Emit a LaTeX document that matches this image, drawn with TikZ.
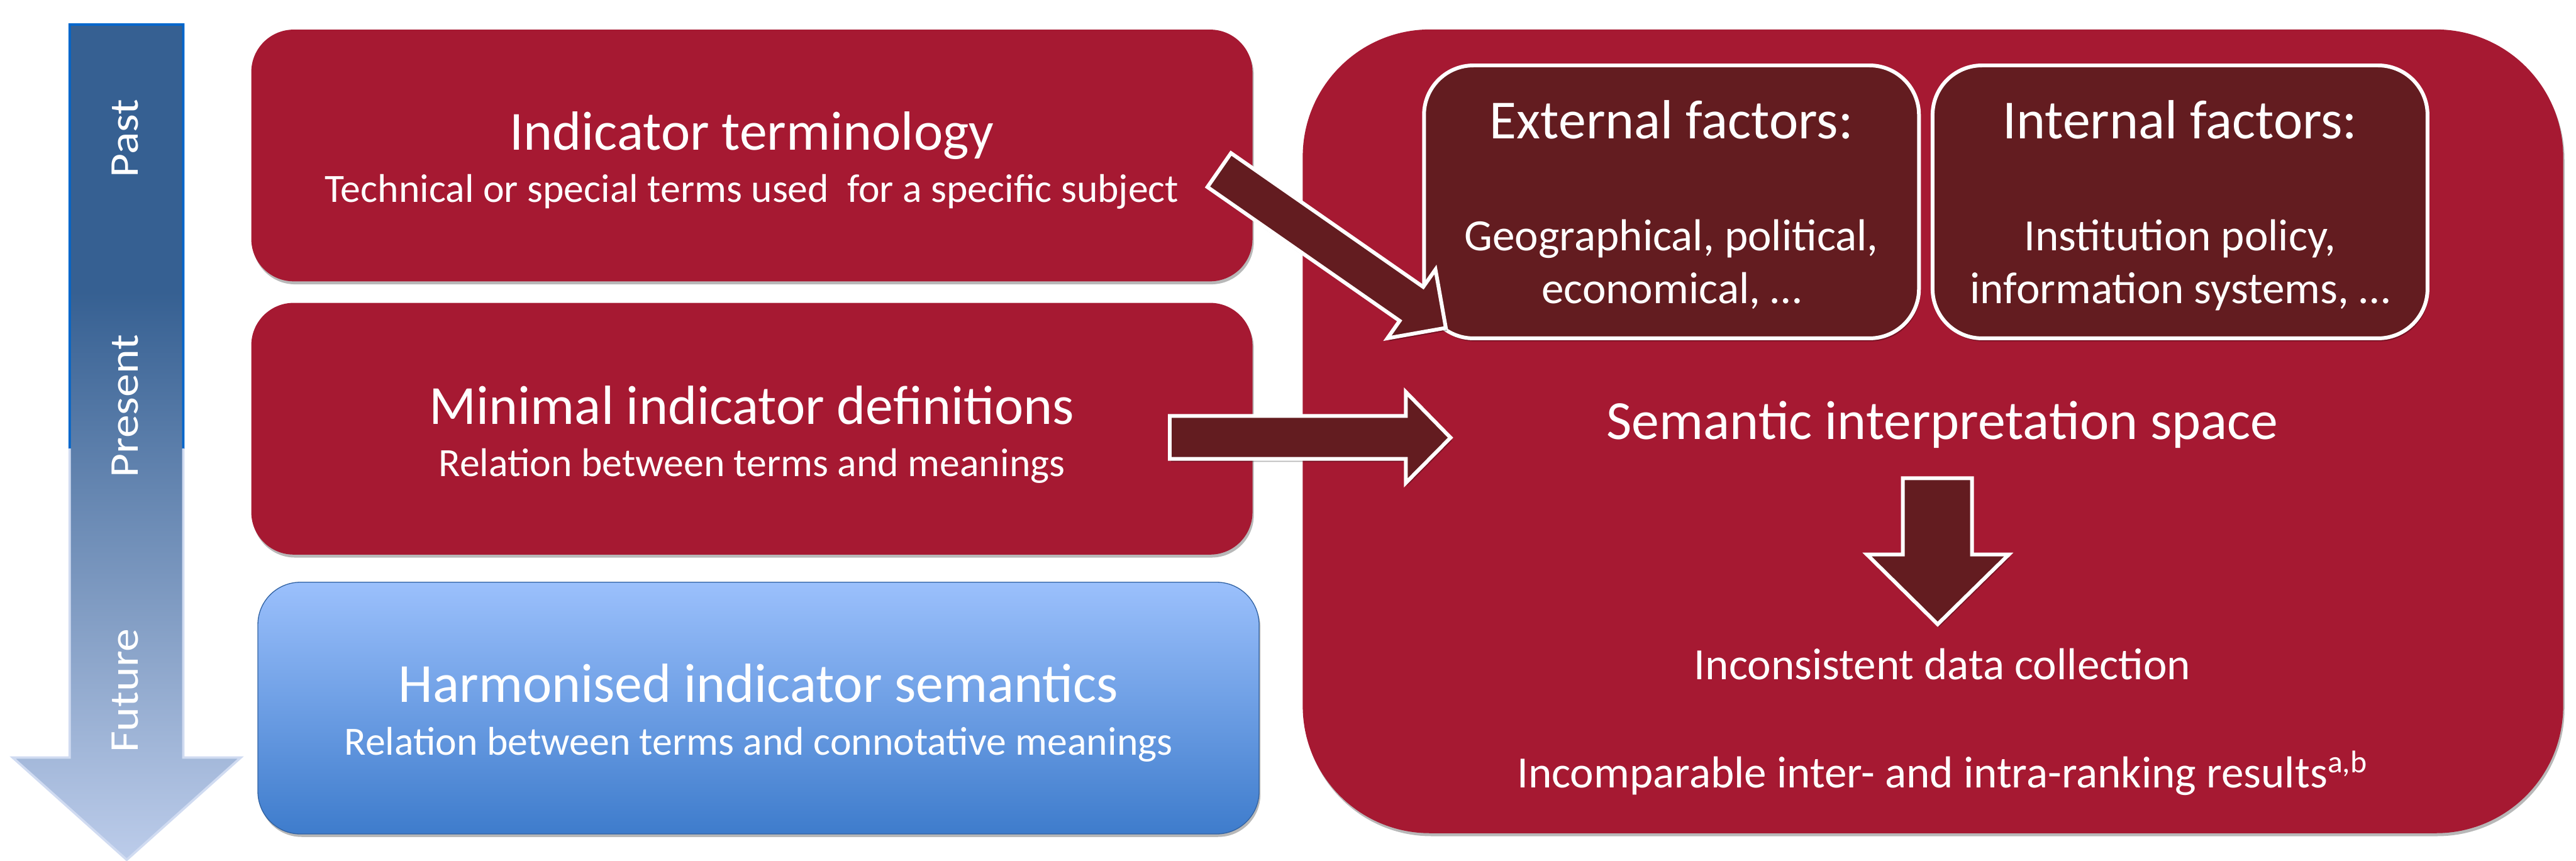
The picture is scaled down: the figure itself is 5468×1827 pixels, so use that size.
\documentclass[tikz,border=0pt]{standalone}
\usepackage{fontspec}
\usepackage{graphicx}
\setmainfont{Carlito}
\usetikzlibrary{shadows}

\definecolor{crimson}{RGB}{166,25,50}
\definecolor{wine}{RGB}{99,28,32}
\definecolor{skyTop}{RGB}{155,192,252}
\definecolor{skyBot}{RGB}{62,124,204}
\definecolor{timeTop}{RGB}{54,96,146}
\definecolor{timeBot}{RGB}{188,204,234}
\definecolor{timeEdge}{RGB}{0,102,204}
\definecolor{timePale}{RGB}{208,219,241}

% dark on the upper third, then fading towards the arrow head
\pgfdeclareverticalshading{timeshade}{100bp}{color(0bp)=(timeBot); color(25bp)=(timeBot); color(59bp)=(timeTop); color(100bp)=(timeTop)}

\newcommand\timepath{(148,52) -- (389,52) -- (389,1608) -- (511,1608) -- (269,1825) -- (27,1608) -- (148,1608) -- cycle}

\tikzset{
  softshadow/.style={drop shadow={shadow xshift=0.8pt, shadow yshift=-1.8pt, opacity=0.28, fill=black}},
  leftbox/.style={rounded corners=0.9cm, minimum width=21.24cm, minimum height=5.34cm, inner sep=0pt, softshadow},
  redbox/.style={leftbox, fill=crimson},
  bluebox/.style={leftbox, top color=skyTop, bottom color=skyBot, draw=skyBot!80!black, line width=0.5pt},
  bigbox/.style={rounded corners=2.7cm, fill=crimson, inner sep=0pt, softshadow},
  factorbox/.style={rounded corners=1.05cm, fill=wine, draw=white, line width=0.08cm, inner sep=0pt,
    minimum width=10.5cm, minimum height=5.79cm, softshadow},
  blockarrow/.style={fill=wine, draw=white, line width=0.08cm, line join=miter, softshadow},
  txt/.style={text=white, anchor=base, inner sep=0pt},
  title/.style={txt, font=\fontsize{33.3}{40}\selectfont},
  sub/.style={txt, font=\fontsize{24.2}{29}\selectfont},
  factor/.style={txt, font=\fontsize{27}{32}\selectfont},
  timelbl/.style={txt, rotate=90, font=\fontsize{28}{32}\selectfont},
}

\begin{document}
\begin{tikzpicture}[x={(0.01cm,0)}, y={(0,-0.01cm)}]
\useasboundingbox (0,0) rectangle (5468,1827);

% time axis arrow
\shade[shading=timeshade] \timepath;
\begin{scope}
  \clip (0,0) rectangle (600,953);
  \draw[timeEdge, line width=0.05cm] \timepath;
\end{scope}
\begin{scope}
  \clip (0,953) rectangle (600,1827);
  \draw[timePale, line width=0.05cm] \timepath;
\end{scope}
\node[timelbl] (past) at (293,294) {\scalebox{1}[0.88]{Past}};
\node[timelbl] (present) at (293,862) {\scalebox{1}[0.88]{Present}};
\node[timelbl] (future) at (293,1466) {\scalebox{1}[0.88]{Future}};

% stages on the left
\node[redbox] (term) at (1596,330) {};
\node[title] (termT) at (1596,318) {Indicator terminology};
\node[sub] (termS) at (1596,429) {Technical or special terms used\ \ for a specific subject};

\node[redbox] (mini) at (1596,910) {};
\node[title] (miniT) at (1596,900) {Minimal indicator definitions};
\node[sub] (miniS) at (1596,1011) {Relation between terms and meanings};

\node[bluebox] (harm) at (1610,1503) {};
\node[title] (harmT) at (1610,1491) {Harmonised indicator semantics};
\node[sub] (harmS) at (1610,1602) {Relation between terms and connotative meanings};

% interpretation space
\node[bigbox, minimum width=26.74cm, minimum height=17.05cm] (space) at (4103,915.5) {};

\node[factorbox] (ext) at (3548,428.5) {};
\node[title] (extT) at (3548,295) {External factors:};
\node[factor] (extA) at (3548,532) {Geographical, political,};
\node[factor] (extB) at (3548,644) {economical, …};

\node[factorbox] (int) at (4627.5,428.5) {};
\node[title] (intT) at (4627.5,295) {Internal factors:};
\node[factor] (intA) at (4627.5,532) {Institution policy,};
\node[factor] (intB) at (4627.5,644) {information systems, …};

\node[title] (spaceT) at (4123,933) {Semantic interpretation space};
\node[factor] (incons) at (4123,1442) {Inconsistent data collection};
\node[factor] (incomp) at (4123,1672) {Incomparable inter- and intra-ranking results\textsuperscript{a,b}};

% block arrows
\path[blockarrow] (2613,325) -- (3021,609) -- (3047,572) -- (3069,696) -- (2945,718) -- (2971,681) -- (2563,397) -- cycle;
\path[blockarrow] (2483,883) -- (2984,883) -- (2984,832) -- (3079,929) -- (2984,1025) -- (2984,974) -- (2483,974) -- cycle;
\path[blockarrow] (4039,1015) -- (4186,1015) -- (4186,1177) -- (4264,1177) -- (4113,1325) -- (3963,1177) -- (4039,1177) -- cycle;
\end{tikzpicture}
\end{document}
